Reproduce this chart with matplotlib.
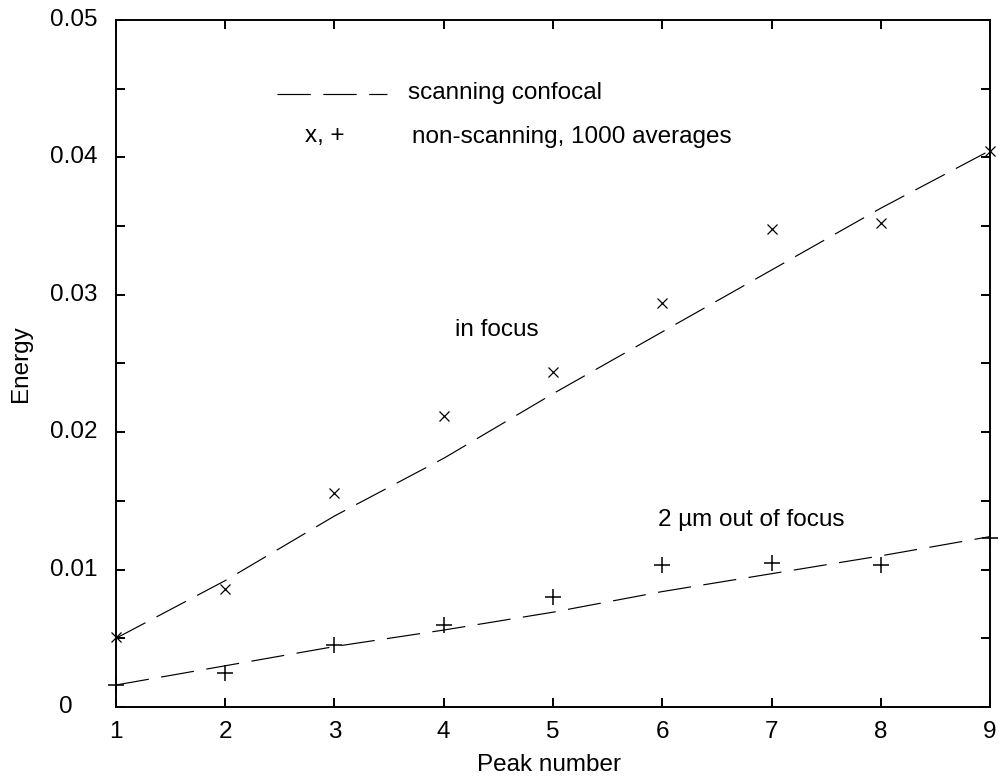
import matplotlib.pyplot as plt
from matplotlib.ticker import MultipleLocator

plt.rcParams['font.family'] = ['Liberation Sans', 'DejaVu Sans']
plt.rcParams['lines.scale_dashes'] = False

# peak index
peaks = [1, 2, 3, 4, 5, 6, 7, 8, 9]

# scanning confocal (dashed lines)
scan_in_focus = [0.0050, 0.0092, 0.0139, 0.0181, 0.0228, 0.0273, 0.0318, 0.0363, 0.0405]
scan_out_focus = [0.0016, 0.0030, 0.0044, 0.0056, 0.0069, 0.0084, 0.0097, 0.0110, 0.0124]

# non-scanning, 1000 averages (markers)
nonscan_in_focus = [0.0051, 0.0086, 0.0156, 0.0212, 0.0244, 0.0294, 0.0348, 0.0352, 0.0405]
nonscan_out_focus = [0.0016, 0.0025, 0.0045, 0.0060, 0.0080, 0.0103, 0.0105, 0.0103, 0.0123]

yticks = [0, 0.01, 0.02, 0.03, 0.04, 0.05]
ytick_labels = ['0', '0.01', '0.02', '0.03', '0.04', '0.05']

fs = 17.5
dash = (24, 9)

fig = plt.figure(figsize=(9.99, 7.8), dpi=100)
ax = fig.add_axes([0.1161, 0.0936, 0.8749, 0.8808])

ax.plot(peaks, scan_in_focus, color='black', lw=0.85, dashes=dash)
ax.plot(peaks, scan_out_focus, color='black', lw=0.85, dashes=dash)
ax.plot(peaks, nonscan_in_focus, linestyle='none', marker='x', ms=7,
        mew=0.9, color='black', clip_on=False)
ax.plot(peaks, nonscan_out_focus, linestyle='none', marker='+', ms=12,
        mew=1.1, color='black', clip_on=False)

ax.set_xlim(1, 9)
ax.set_ylim(0, 0.05)

for s in ax.spines.values():
    s.set_linewidth(1.4)

ax.xaxis.set_major_locator(MultipleLocator(1))
ax.yaxis.set_major_locator(MultipleLocator(0.01))
ax.yaxis.set_minor_locator(MultipleLocator(0.005))
ax.tick_params(which='both', direction='in', length=6.5, width=1.4,
               top=True, right=True, labelsize=fs)
ax.tick_params(axis='x', pad=10)

# y labels drawn by hand: the zero sits left of the others
ax.set_yticklabels([])
tr = ax.get_yaxis_transform()
for v, lab in zip(yticks, ytick_labels):
    xpos = -0.0492 if lab == '0' else -0.0217
    ax.text(xpos, v, lab, transform=tr, ha='right', va='center', fontsize=fs)

ax.set_xlabel('Peak number', fontsize=fs)
ax.set_ylabel('Energy', fontsize=fs)
ax.xaxis.set_label_coords(0.4954, -0.068)
ax.yaxis.set_label_coords(-0.096, 0.5)

# annotations
ax.text(4.10, 0.02744, 'in focus', fontsize=fs, va='center', ha='left')
ax.text(5.96, 0.01361, '2 \u00b5m out of focus', fontsize=fs, va='center', ha='left')

# key
ax.plot([0.1842, 0.3101], [0.8923, 0.8923], transform=ax.transAxes,
        color='black', lw=0.85, dashes=dash)
ax.text(0.3341, 0.8937, 'scanning confocal', transform=ax.transAxes,
        fontsize=fs, va='center', ha='left')
ax.text(0.2162, 0.8311, 'x, +', transform=ax.transAxes,
        fontsize=fs, va='center', ha='left')
ax.text(0.3387, 0.8297, 'non-scanning, 1000 averages', transform=ax.transAxes,
        fontsize=fs, va='center', ha='left')

fig.savefig('out.png', dpi=100)
